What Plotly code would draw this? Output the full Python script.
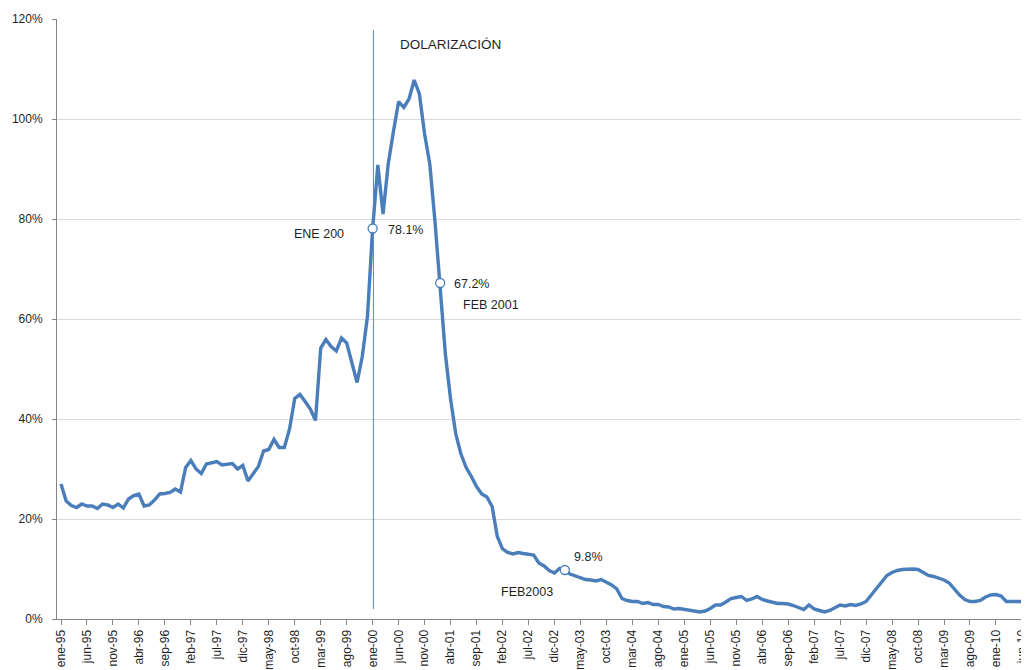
import plotly.graph_objects as go

# Monthly values (%), ene-95 .. jun-10
values = [
    # 1995
    27.0, 23.6, 22.7, 22.3, 23.0, 22.6, 22.6, 22.1, 23.0, 22.8, 22.3, 23.0,
    # 1996
    22.2, 24.0, 24.7, 25.0, 22.6, 22.8, 23.8, 25.0, 25.1, 25.3, 26.0, 25.4,
    # 1997
    30.3, 31.7, 30.0, 29.1, 31.0, 31.2, 31.5, 30.8, 30.9, 31.1, 30.0, 30.7,
    # 1998
    27.6, 29.0, 30.5, 33.6, 33.9, 35.9, 34.3, 34.3, 38.0, 44.1, 44.9, 43.5,
    # 1999
    42.0, 39.7, 54.2, 55.9, 54.5, 53.6, 56.2, 55.2, 51.0, 47.3, 52.5, 60.5,
    # 2000
    78.1, 90.8, 81.0, 91.0, 97.5, 103.5, 102.3, 104.0, 107.8, 105.0, 97.0, 91.0,
    # 2001
    79.5, 67.2, 53.0, 44.0, 37.0, 33.0, 30.3, 28.5, 26.5, 25.0, 24.4, 22.5,
    # 2002
    16.5, 14.0, 13.3, 13.0, 13.3, 13.1, 13.0, 12.8, 11.2, 10.6, 9.7, 9.2,
    # 2003
    10.1, 9.8, 9.0, 8.6, 8.3, 7.9, 7.8, 7.6, 7.9, 7.4, 6.8, 6.0,
    # 2004
    4.1, 3.7, 3.5, 3.5, 3.1, 3.3, 2.9, 2.9, 2.5, 2.4, 2.0, 2.1,
    # 2005
    1.9, 1.7, 1.5, 1.4, 1.6, 2.1, 2.8, 2.8, 3.4, 4.1, 4.3, 4.5,
    # 2006
    3.7, 4.0, 4.5, 3.9, 3.6, 3.3, 3.1, 3.1, 3.0, 2.7, 2.3, 1.9,
    # 2007
    2.8, 2.0, 1.7, 1.4, 1.7, 2.3, 2.8, 2.6, 2.9, 2.7, 3.0, 3.5,
    # 2008
    4.8, 6.0, 7.5, 8.7, 9.3, 9.7, 9.9, 10.0, 10.0, 9.9, 9.2, 8.7,
    # 2009
    8.5, 8.2, 7.8, 7.2, 6.0, 4.8, 3.9, 3.5, 3.5, 3.7, 4.4, 4.8,
    # 2010
    4.9, 4.6, 3.5, 3.5, 3.5, 3.5,
]

tick_labels = [
    "ene-95", "jun-95", "nov-95", "abr-96", "sep-96", "feb-97", "jul-97", "dic-97",
    "may-98", "oct-98", "mar-99", "ago-99", "ene-00", "jun-00", "nov-00", "abr-01",
    "sep-01", "feb-02", "jul-02", "dic-02", "may-03", "oct-03", "mar-04", "ago-04",
    "ene-05", "jun-05", "nov-05", "abr-06", "sep-06", "feb-07", "jul-07", "dic-07",
    "may-08", "oct-08", "mar-09", "ago-09", "ene-10", "jun-10",
]
tick_step = 5

# Highlighted points (month index, label)
highlight_idx = [60, 73, 97]          # ene-00, feb-01, feb-03
highlight_text = ["78.1%", "67.2%", "9.8%"]

# Dollarization reference line
dollarization_idx = 60.15
dollarization_y = [2, 117.8]

months = list(range(len(values)))
tick_vals = [i * tick_step for i in range(len(tick_labels))]

BLUE = "#4A7EBB"
TXT = "#1f1f1f"
FONT = "Liberation Sans"
FONT_NARROW = "Liberation Sans Narrow, Liberation Sans"

fig = go.Figure()

fig.add_trace(go.Scatter(
    x=months, y=values, mode="lines",
    line=dict(color=BLUE, width=3.4),
    hoverinfo="skip", showlegend=False,
))

fig.add_trace(go.Scatter(
    x=[dollarization_idx, dollarization_idx], y=dollarization_y, mode="lines",
    line=dict(color="#5A83BD", width=1),
    hoverinfo="skip", showlegend=False,
))

fig.add_trace(go.Scatter(
    x=highlight_idx, y=[values[i] for i in highlight_idx], mode="markers",
    marker=dict(size=9, color="white", line=dict(color=BLUE, width=1.3)),
    hoverinfo="skip", showlegend=False,
))

annots = [
    dict(x=74.9, y=115.0, text="DOLARIZACIÓN", xanchor="center", size=13.5),
    dict(x=49.6, y=77.1, text="ENE 200", xanchor="center", size=12.5),
    dict(x=62.5, y=77.9, text=highlight_text[0], xanchor="left", size=12.5),
    dict(x=75.3, y=67.1, text=highlight_text[1], xanchor="left", size=12.5),
    dict(x=82.8, y=62.9, text="FEB 2001", xanchor="center", size=12.5),
    dict(x=98.3, y=12.4, text=highlight_text[2], xanchor="left", size=12.5),
    dict(x=89.8, y=5.4, text="FEB2003", xanchor="center", size=12.5),
]
for a in annots:
    fig.add_annotation(x=a["x"], y=a["y"], text=a["text"], xanchor=a["xanchor"],
                       yanchor="middle", showarrow=False,
                       font=dict(family=FONT, size=a["size"], color=TXT))

# page body has an 8px default margin: figure starts at (8, 8)
fig.update_layout(
    width=1021, height=662,
    margin=dict(l=49, r=0, t=11, b=42),
    paper_bgcolor="white", plot_bgcolor="white",
    font=dict(family=FONT, size=12, color=TXT),
    showlegend=False,
)

fig.update_xaxes(
    range=[-0.77, 185.4],
    tickmode="array", tickvals=tick_vals, ticktext=tick_labels,
    tickangle=-90, tickfont=dict(family=FONT_NARROW, size=12, color=TXT),
    ticklabeloverflow="allow",
    ticks="outside", ticklen=5, tickcolor="#868686",
    showgrid=False, zeroline=False,
    showline=True, linecolor="#868686", linewidth=1,
)
fig.update_yaxes(
    range=[0, 120], tickvals=[0, 20, 40, 60, 80, 100, 120],
    ticktext=["0%", "20%", "40%", "60%", "80%", "100%", "120%"],
    tickfont=dict(family=FONT, size=12, color=TXT),
    ticklabelstandoff=7,
    ticks="outside", ticklen=4, tickcolor="#868686",
    showgrid=True, gridcolor="#D9D9D9", gridwidth=1,
    zeroline=False, showline=True, linecolor="#868686", linewidth=1,
)

fig.write_html("out.html")
